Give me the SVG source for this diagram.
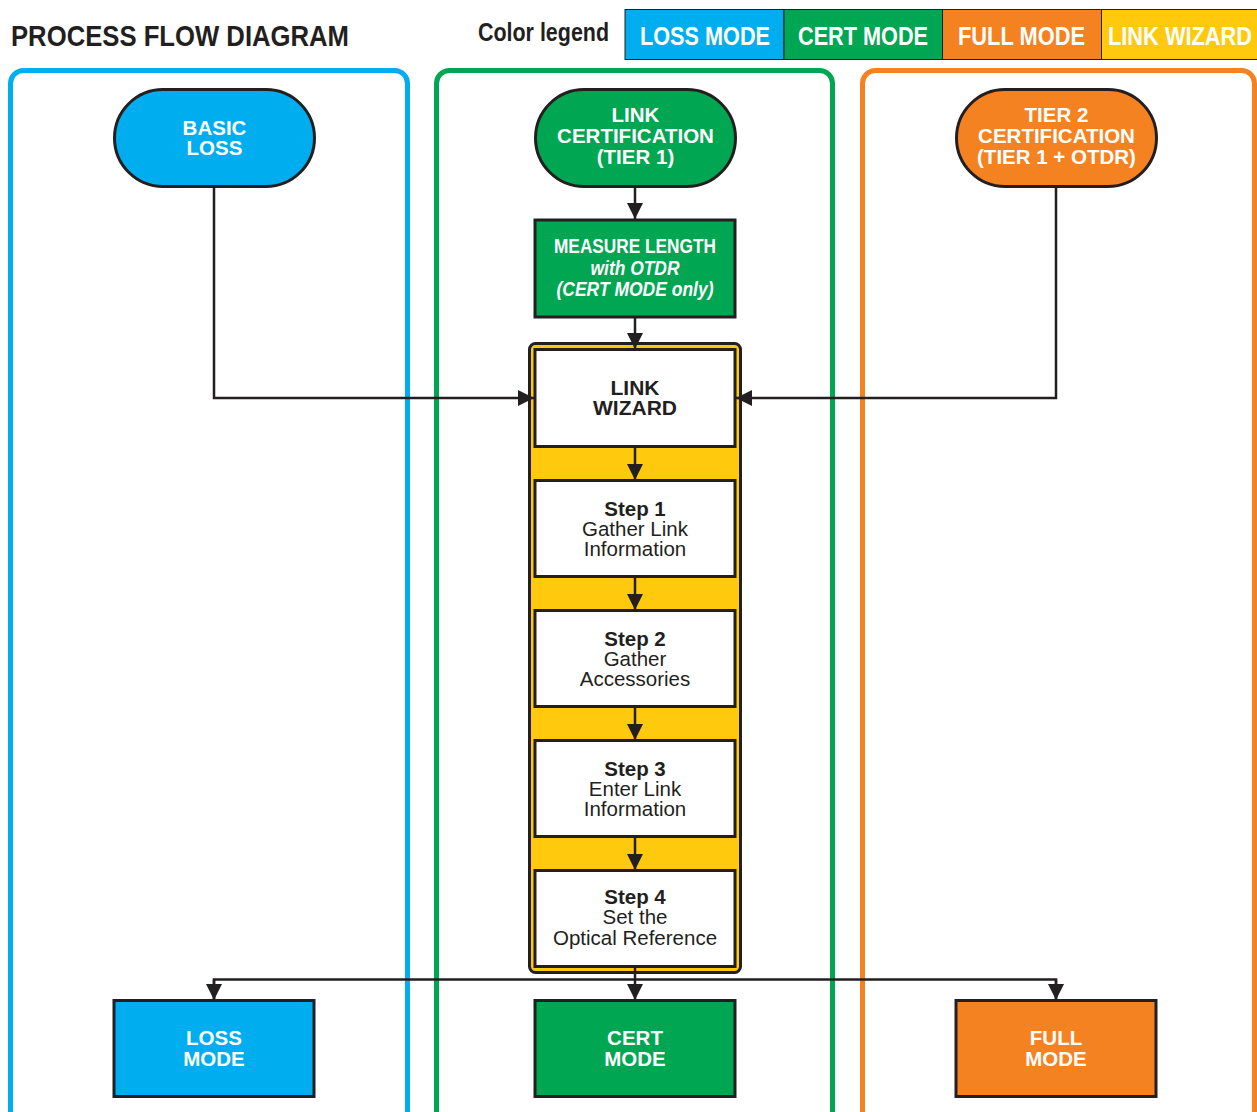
<svg xmlns="http://www.w3.org/2000/svg" width="1257" height="1112" viewBox="0 0 1257 1112">
  <style>
    .narrow { font-family: "Liberation Sans Narrow", "Liberation Sans", Arial, sans-serif; font-weight: bold; }
    .bold { font-family: "Liberation Sans", Arial, sans-serif; font-weight: bold; }
    .reg { font-family: "Liberation Sans", Arial, sans-serif; }
    .wt { fill: #ffffff; }
    .dk { fill: #231f20; }
    .lane { fill: none; stroke-width: 5; }
    .box { stroke: #231f20; stroke-width: 3; }
    .conn { fill: none; stroke: #231f20; stroke-width: 2.5; }
  </style>
  <defs>
    <marker id="arrow" viewBox="0 0 16 16" refX="16" refY="8" markerWidth="16" markerHeight="16" markerUnits="userSpaceOnUse" orient="auto">
      <path d="M0,0 L16,8 L0,16 Z" fill="#231f20"/>
    </marker>
  </defs>

  <rect width="1257" height="1112" fill="#ffffff"/>

  <!-- header -->
  <text class="narrow dk" x="11" y="46" font-size="30" textLength="338" lengthAdjust="spacingAndGlyphs">PROCESS FLOW DIAGRAM</text>
  <text class="narrow dk" x="478" y="41" font-size="25" textLength="131" lengthAdjust="spacingAndGlyphs">Color legend</text>

  <!-- legend -->
  <g id="legend">
    <rect x="625" y="9.5" width="159" height="50" fill="#00aeef" stroke="#231f20" stroke-width="1"/>
    <rect x="784" y="9.5" width="158.5" height="50" fill="#00a651" stroke="#231f20" stroke-width="1"/>
    <rect x="942.5" y="9.5" width="159" height="50" fill="#f58220" stroke="#231f20" stroke-width="1"/>
    <rect x="1101.5" y="9.5" width="160" height="50" fill="#ffc90e" stroke="#231f20" stroke-width="1"/>
    <text class="narrow wt" x="640" y="45" font-size="26" textLength="130" lengthAdjust="spacingAndGlyphs">LOSS MODE</text>
    <text class="narrow wt" x="798" y="45" font-size="26" textLength="130" lengthAdjust="spacingAndGlyphs">CERT MODE</text>
    <text class="narrow wt" x="958" y="45" font-size="26" textLength="127" lengthAdjust="spacingAndGlyphs">FULL MODE</text>
    <text class="narrow wt" x="1108" y="45" font-size="26" textLength="144" lengthAdjust="spacingAndGlyphs">LINK WIZARD</text>
  </g>

  <!-- swim lanes -->
  <g id="lanes">
    <rect class="lane" x="10.5" y="70.5" width="397" height="1080" rx="13" stroke="#00aeef"/>
    <rect class="lane" x="436.5" y="70.5" width="396" height="1080" rx="13" stroke="#00a651"/>
    <rect class="lane" x="862.5" y="70.5" width="392" height="1080" rx="13" stroke="#f58220"/>
  </g>

  <!-- link wizard container -->
  <g id="wizard-frame">
    <rect x="529.5" y="343.5" width="211" height="629" rx="6" fill="#ffc90e" stroke="#231f20" stroke-width="3"/>
  </g>

  <!-- connectors -->
  <g id="connectors">
    <polyline class="conn" points="214,187 214,398 534,398" marker-end="url(#arrow)"/>
    <polyline class="conn" points="1056,187 1056,398 736,398" marker-end="url(#arrow)"/>
    <line class="conn" x1="635" y1="187" x2="635" y2="219" marker-end="url(#arrow)"/>
    <line class="conn" x1="635" y1="317" x2="635" y2="349" marker-end="url(#arrow)"/>
    <line class="conn" x1="635" y1="447" x2="635" y2="480" marker-end="url(#arrow)"/>
    <line class="conn" x1="635" y1="577" x2="635" y2="610" marker-end="url(#arrow)"/>
    <line class="conn" x1="635" y1="707" x2="635" y2="740" marker-end="url(#arrow)"/>
    <line class="conn" x1="635" y1="837" x2="635" y2="870" marker-end="url(#arrow)"/>
    <line class="conn" x1="635" y1="967" x2="635" y2="1000" marker-end="url(#arrow)"/>
    <polyline class="conn" points="214,1000 214,979.5 1056,979.5 1056,1000"/>
    <line class="conn" x1="214" y1="979.5" x2="214" y2="1000" marker-end="url(#arrow)"/>
    <line class="conn" x1="1056" y1="979.5" x2="1056" y2="1000" marker-end="url(#arrow)"/>
  </g>

  <!-- start terminals -->
  <g id="basic-loss">
    <rect class="box" x="114.5" y="89.5" width="200" height="97" rx="48.5" fill="#00aeef"/>
    <text class="bold wt" text-anchor="middle" font-size="20.5"><tspan x="214.5" y="135">BASIC</tspan><tspan x="214.5" y="155">LOSS</tspan></text>
  </g>
  <g id="link-certification">
    <rect class="box" x="535.5" y="89.5" width="200" height="97" rx="48.5" fill="#00a651"/>
    <text class="bold wt" text-anchor="middle" font-size="20.5"><tspan x="635.5" y="122">LINK</tspan><tspan x="635.5" y="143">CERTIFICATION</tspan><tspan x="635.5" y="164">(TIER 1)</tspan></text>
  </g>
  <g id="tier2-certification">
    <rect class="box" x="956.5" y="89.5" width="200" height="97" rx="48.5" fill="#f58220"/>
    <text class="bold wt" text-anchor="middle" font-size="20.5"><tspan x="1056.5" y="122">TIER 2</tspan><tspan x="1056.5" y="143">CERTIFICATION</tspan><tspan x="1056.5" y="164">(TIER 1 + OTDR)</tspan></text>
  </g>

  <!-- OTDR length step -->
  <g id="measure-length">
    <rect class="box" x="535" y="220" width="200" height="97" fill="#00a651"/>
    <text class="narrow wt" text-anchor="middle" font-size="20"><tspan x="635" y="253" textLength="162" lengthAdjust="spacingAndGlyphs">MEASURE LENGTH</tspan><tspan x="635" y="275" font-style="italic" textLength="89" lengthAdjust="spacingAndGlyphs">with OTDR</tspan><tspan x="635" y="296" font-style="italic" textLength="157" lengthAdjust="spacingAndGlyphs">(CERT MODE only)</tspan></text>
  </g>

  <!-- link wizard -->
  <g id="link-wizard">
    <rect class="box" x="535" y="349.5" width="200" height="97" fill="#ffffff"/>
    <text class="bold dk" text-anchor="middle" font-size="21"><tspan x="635" y="395">LINK</tspan><tspan x="635" y="415">WIZARD</tspan></text>
  </g>
  <g id="step1">
    <rect class="box" x="535" y="480.5" width="200" height="96" fill="#ffffff"/>
    <text class="reg dk" text-anchor="middle" font-size="20.5"><tspan x="635" y="516" font-weight="bold">Step 1</tspan><tspan x="635" y="536">Gather Link</tspan><tspan x="635" y="556">Information</tspan></text>
  </g>
  <g id="step2">
    <rect class="box" x="535" y="610.5" width="200" height="96" fill="#ffffff"/>
    <text class="reg dk" text-anchor="middle" font-size="20.5"><tspan x="635" y="646" font-weight="bold">Step 2</tspan><tspan x="635" y="666">Gather</tspan><tspan x="635" y="686">Accessories</tspan></text>
  </g>
  <g id="step3">
    <rect class="box" x="535" y="740.5" width="200" height="96" fill="#ffffff"/>
    <text class="reg dk" text-anchor="middle" font-size="20.5"><tspan x="635" y="776" font-weight="bold">Step 3</tspan><tspan x="635" y="796">Enter Link</tspan><tspan x="635" y="816">Information</tspan></text>
  </g>
  <g id="step4">
    <rect class="box" x="535" y="870.5" width="200" height="96" fill="#ffffff"/>
    <text class="reg dk" text-anchor="middle" font-size="20.5"><tspan x="635" y="904" font-weight="bold">Step 4</tspan><tspan x="635" y="924">Set the</tspan><tspan x="635" y="945">Optical Reference</tspan></text>
  </g>

  <!-- result modes -->
  <g id="loss-mode">
    <rect class="box" x="114" y="1000.5" width="200" height="96" fill="#00aeef"/>
    <text class="bold wt" text-anchor="middle" font-size="20.5"><tspan x="214" y="1045">LOSS</tspan><tspan x="214" y="1066">MODE</tspan></text>
  </g>
  <g id="cert-mode">
    <rect class="box" x="535" y="1000.5" width="200" height="96" fill="#00a651"/>
    <text class="bold wt" text-anchor="middle" font-size="20.5"><tspan x="635" y="1045">CERT</tspan><tspan x="635" y="1066">MODE</tspan></text>
  </g>
  <g id="full-mode">
    <rect class="box" x="956" y="1000.5" width="200" height="96" fill="#f58220"/>
    <text class="bold wt" text-anchor="middle" font-size="20.5"><tspan x="1056" y="1045">FULL</tspan><tspan x="1056" y="1066">MODE</tspan></text>
  </g>
</svg>
